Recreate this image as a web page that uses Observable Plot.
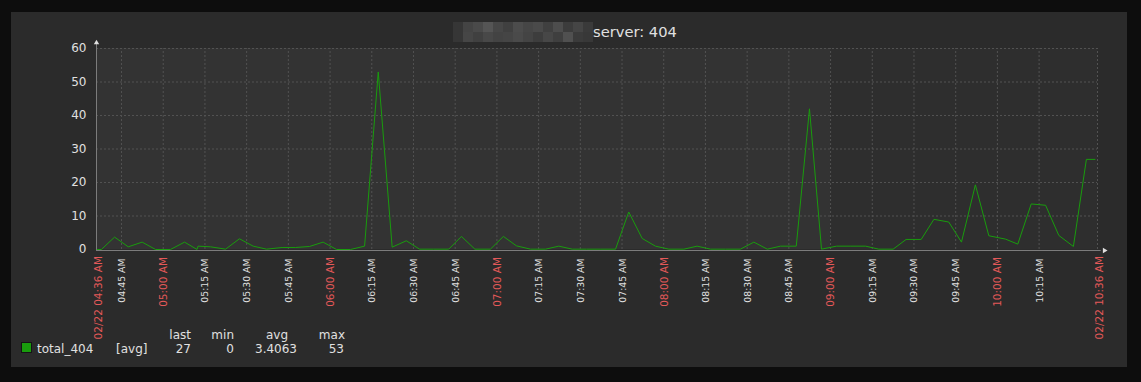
<!DOCTYPE html>
<html><head><meta charset="utf-8">
<script src="https://cdn.jsdelivr.net/npm/d3@7"></script>
<script src="https://cdn.jsdelivr.net/npm/@observablehq/plot@0.6"></script>
<style>
html,body{margin:0;padding:0;background:#0d0d0d;width:1141px;height:382px;overflow:hidden;}
#wrap{position:relative;width:1141px;height:382px;font-family:"DejaVu Sans",sans-serif;}
#panel{position:absolute;left:11px;top:12px;width:1116px;height:355px;background:#2b2b2b;}
#chart{position:absolute;left:0;top:0;}
#overlay{position:absolute;left:0;top:0;}
</style></head><body>
<div id="wrap"><div id="panel"></div><div id="chart"></div></div>
<script>
// ---- data ----
const titleText = "server: 404";
const sampleTimes = ["04:36:15","04:37:45","04:42:30","04:47:25","04:52:25","04:57:15","05:02:35","05:07:40","05:12:10","05:12:30",
  "05:17:00","05:22:25","05:27:25","05:32:20","05:37:10","05:42:45","05:47:35","05:52:35","05:57:30","06:02:20",
  "06:07:20","06:12:25","06:17:20","06:22:20","06:27:25","06:32:10","06:37:15","06:42:40","06:47:15","06:52:05",
  "06:57:40","07:02:20","07:07:00","07:12:05","07:17:30","07:22:15","07:27:05","07:32:10","07:37:25","07:42:40",
  "07:47:25","07:52:15","07:57:00","08:01:50","08:07:15","08:12:00","08:16:50","08:22:15","08:27:35","08:32:25",
  "08:37:15","08:42:00","08:47:40","08:52:25","08:56:45","09:02:10","09:07:20","09:12:35","09:17:20","09:22:30",
  "09:27:10","09:32:35","09:37:10","09:42:30","09:47:05","09:52:05","09:56:55","10:02:55","10:07:20","10:12:10",
  "10:17:20","10:22:05","10:27:20","10:32:00","10:35:05"];
const sampleValues = [0,0,3.7,0.8,2.2,0,0,2.2,0,1,
  0.8,0.1,3.2,1,0.1,0.6,0.6,0.9,2.2,0,
  0,1,53,0.7,2.6,0.1,0.1,0.1,3.9,0.1,
  0.1,3.9,1.1,0.1,0.1,1,0.1,0.1,0.1,0.1,
  11.2,3.3,1,0.1,0.1,1,0.1,0.1,0.1,2.2,
  0.1,1,1,42,0.1,1,1,1,0.1,0.1,
  3,3,9,8.2,2.2,19.3,4.1,3.1,1.6,13.6,
  13.2,4.2,0.9,26.9,26.9];
const yTicks = [0,10,20,30,40,50,60];
const quarterTicks = ["04:45 AM","05:15 AM","05:30 AM","05:45 AM","06:15 AM","06:30 AM","06:45 AM","07:15 AM","07:30 AM","07:45 AM",
  "08:15 AM","08:30 AM","08:45 AM","09:15 AM","09:30 AM","09:45 AM","10:15 AM"];
const hourTicks = ["05:00 AM","06:00 AM","07:00 AM","08:00 AM","09:00 AM","10:00 AM"];
const endTicks = ["02/22 04:36 AM","02/22 10:36 AM"];
const workEnd = "09:00 AM";
const seriesName = "total_404";
const seriesFunc = "[avg]";
const legendHeaders = ["last","min","avg","max"];
const legendValues = ["27","0","3.4063","53"];

// ---- helpers ----
function at(h,m,s){return new Date(Date.UTC(2023,1,22,h,m,s||0));}
function parseHMS(str){const [h,m,s]=str.split(":").map(Number);return at(h,m,s);}
function parseLabel(str){
  const parts=str.split(" "); const hm=parts[parts.length-2]; const ap=parts[parts.length-1];
  let [h,m]=hm.split(":").map(Number); if(ap==="PM"&&h<12)h+=12; if(ap==="AM"&&h===12)h=0;
  return at(h,m,0);
}
const data = sampleTimes.map((t,i)=>({t:parseHMS(t), v:sampleValues[i]}));
const t0 = parseLabel(endTicks[0]), t1 = parseLabel(endTicks[1]);
const tWork = parseLabel(workEnd);
const quarter = quarterTicks.map(s=>({t:parseLabel(s), s}));
const hours = hourTicks.map(s=>({t:parseLabel(s), s}));
const ends = endTicks.map(s=>({t:parseLabel(s), s}));
const gridTimes = [...quarter, ...hours].map(d=>d.t).concat([t1]);
const xArrowT = new Date(+t1 + 150*1000);
const xAxisEnd = new Date(+t1 + 80*1000);

const gridColor = "#525252";
const axisColor = "#7c7c7c";
const textColor = "#e0e0e0";
const redColor = "#e45959";
const lineColor = "#199c0d";

const chart = Plot.plot({
  width: 1141, height: 382,
  marginLeft: 96, marginRight: 44, marginTop: 48, marginBottom: 133,
  x: {type: "utc", domain: [t0, t1], axis: null},
  y: {domain: [0, 60], axis: null},
  style: {background: "transparent", fontFamily: "DejaVu Sans", overflow: "visible"},
  marks: [
    Plot.rect([0], {x1: () => t0, x2: () => tWork, y1: 0, y2: 60, fill: "#333333"}),
    Plot.rect([0], {x1: () => tWork, x2: () => t1, y1: 0, y2: 60, fill: "#2e2e2e"}),
    Plot.ruleY(yTicks.filter(d => d > 0), {x1: t0, x2: t1, stroke: gridColor, strokeDasharray: "2,2"}),
    Plot.ruleX(gridTimes, {y1: 0, y2: 60, stroke: gridColor, strokeDasharray: "2,2"}),
    Plot.ruleX([t0], {y1: -0.3, y2: 61.2, stroke: axisColor}),
    Plot.ruleY([-0.3], {x1: t0, x2: xAxisEnd, stroke: axisColor}),
    Plot.dot([0], {x: () => t0, y: () => 61.7, symbol: "triangle", r: 2, fill: textColor, stroke: "none"}),
    Plot.dot([0], {x: () => xArrowT, y: () => -0.3, symbol: "triangle", r: 2, rotate: 90, fill: textColor, stroke: "none"}),
    Plot.line(data, {x: "t", y: "v", stroke: lineColor, strokeWidth: 1}),
    Plot.text(yTicks, {y: d => d, frameAnchor: "left", text: d => String(d), textAnchor: "end", dx: -10, fill: textColor, fontSize: 12}),
    Plot.text(quarter, {x: "t", y: () => 0, text: "s", rotate: -90, textAnchor: "end", dy: 9, dx: 0.5, fill: textColor, fontSize: 9.3}),
    Plot.text(hours, {x: "t", y: () => 0, text: "s", rotate: -90, textAnchor: "end", dy: 7.5, dx: 0.5, fill: redColor, fontSize: 10.5}),
    Plot.text(ends, {x: "t", y: () => 0, text: "s", rotate: -90, textAnchor: "end", dy: 6.5, dx: 2, fill: redColor, fontSize: 10.5})
  ]
});
document.getElementById("chart").appendChild(chart);

// ---- title & legend overlay ----
const ov = d3.select("#wrap").append("svg").attr("id","overlay").attr("width",1141).attr("height",382)
  .style("font-family","'DejaVu Sans', sans-serif");
// redacted host name mosaic
const mosaic = ["#363636","#444444","#4a4a4a","#555555","#474747","#404040","#4c4c4c","#464646","#4a4a4a","#404040","#4d4d4d","#3c3c3c","#454545","#3a3a3a",
                "#363636","#464646","#404040","#484848","#434343","#454545","#4a4a4a","#444444","#3d3d3d","#474747","#3f3f3f","#505050","#3b3b3b","#383838"];
mosaic.forEach((c,i)=>{
  const col=i%14,row=Math.floor(i/14);
  ov.append("rect").attr("x",453+col*10).attr("y",22+row*10).attr("width",10).attr("height",10).attr("fill",c);
});
ov.append("text").attr("x",593).attr("y",36.5).attr("font-size",14.7).attr("fill",textColor).text(titleText);

// legend
ov.append("rect").attr("x",21.5).attr("y",342.5).attr("width",10).attr("height",10).attr("fill",lineColor).attr("stroke","#151515");
ov.append("text").attr("x",37).attr("y",353).attr("font-size",12).attr("fill",textColor).text(seriesName);
ov.append("text").attr("x",116).attr("y",353).attr("font-size",12).attr("fill",textColor).text(seriesFunc);
const headRight = [191, 234, 288, 345];
const valRight = [191, 234, 297, 344];
legendHeaders.forEach((h,i)=>{
  ov.append("text").attr("x",headRight[i]).attr("y",339).attr("text-anchor","end").attr("font-size",12).attr("fill",textColor).text(h);
});
legendValues.forEach((v,i)=>{
  ov.append("text").attr("x",valRight[i]).attr("y",353).attr("text-anchor","end").attr("font-size",12).attr("fill",textColor).text(v);
});
</script>
</body></html>
